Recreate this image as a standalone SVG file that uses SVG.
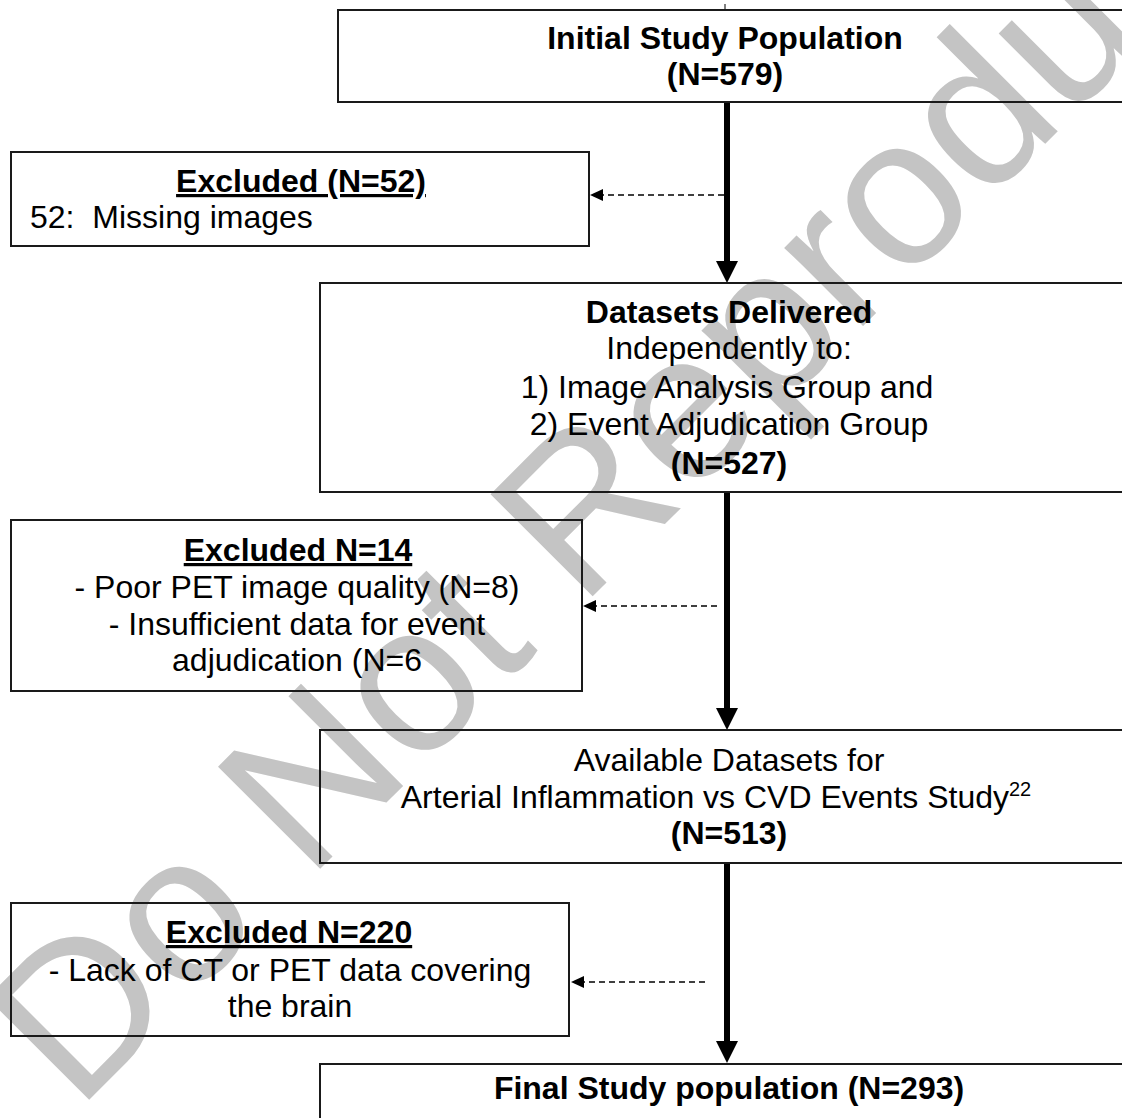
<svg xmlns="http://www.w3.org/2000/svg" width="1122" height="1118" viewBox="0 0 1122 1118">
<style>
.box{fill:none;stroke:#1a1a1a;stroke-width:2}
.t{font-family:"Liberation Sans",Arial,sans-serif;font-size:32px;fill:#000;text-anchor:middle}
.b{font-weight:bold}
.u{text-decoration:underline}
.l{text-anchor:start}
.main{stroke:#000;stroke-width:6;fill:none}
.dash{stroke:#000;stroke-width:1.6;stroke-dasharray:6 4;fill:none}
.wm{font-family:"Liberation Sans",Arial,sans-serif;font-size:210px;fill:#c4c4c4}
</style>
<rect width="1122" height="1118" fill="#fff"/>
<text class="wm" transform="translate(77,1112) rotate(-45)">Do Not Reproduce</text>

<g id="connectors">
<line x1="725" y1="4" x2="725" y2="10" stroke="#000" stroke-width="1"/>
<line class="main" x1="727" y1="102" x2="727" y2="262"/>
<path d="M716,261 L738,261 L727,283 Z" fill="#000"/>
<line class="dash" x1="724" y1="195" x2="600" y2="195"/>
<path d="M590,195 L603,189 L603,201 Z" fill="#000"/>

<line class="main" x1="727" y1="492" x2="727" y2="709"/>
<path d="M716,708 L738,708 L727,730 Z" fill="#000"/>
<line class="dash" x1="717" y1="606" x2="594" y2="606"/>
<path d="M583,606 L596,600 L596,612 Z" fill="#000"/>

<line class="main" x1="727" y1="863" x2="727" y2="1042"/>
<path d="M716,1041 L738,1041 L727,1063 Z" fill="#000"/>
<line class="dash" x1="705" y1="982" x2="582" y2="982"/>
<path d="M571,982 L584,976 L584,988 Z" fill="#000"/>
</g>

<g id="n1">
<rect class="box" x="338" y="10" width="800" height="92"/>
<text class="t b" x="725" y="49">Initial Study Population</text>
<text class="t b" x="725" y="85">(N=579)</text>
</g>

<g id="ex1">
<rect class="box" x="11" y="152" width="578" height="94"/>
<text class="t b u" x="301" y="192">Excluded (N=52)</text>
<text class="t l" x="30" y="228" xml:space="preserve">52:  Missing images</text>
</g>

<g id="n2">
<rect class="box" x="320" y="283" width="820" height="209"/>
<text class="t b" x="729" y="323">Datasets Delivered</text>
<text class="t" x="729" y="359">Independently to:</text>
<text class="t" x="727" y="398">1) Image Analysis Group and</text>
<text class="t" x="729" y="435">2) Event Adjudication Group</text>
<text class="t b" x="729" y="474">(N=527)</text>
</g>

<g id="ex2">
<rect class="box" x="11" y="520" width="571" height="171"/>
<text class="t b u" x="298" y="561">Excluded N=14</text>
<text class="t" x="297" y="598">- Poor PET image quality (N=8)</text>
<text class="t" x="297" y="635">- Insufficient data for event</text>
<text class="t" x="297" y="671">adjudication (N=6</text>
</g>

<g id="n3">
<rect class="box" x="320" y="730" width="820" height="133"/>
<text class="t" x="729" y="771">Available Datasets for</text>
<text class="t" x="716" y="808">Arterial Inflammation vs CVD Events Study<tspan font-size="20" dy="-12">22</tspan></text>
<text class="t b" x="729" y="844">(N=513)</text>
</g>

<g id="ex3">
<rect class="box" x="11" y="903" width="558" height="133"/>
<text class="t b u" x="289" y="943">Excluded N=220</text>
<text class="t" x="290" y="981">- Lack of CT or PET data covering</text>
<text class="t" x="290" y="1017">the brain</text>
</g>

<g id="n4">
<rect class="box" x="320" y="1064" width="820" height="80"/>
<text class="t b" x="729" y="1099">Final Study population (N=293)</text>
</g>
</svg>
